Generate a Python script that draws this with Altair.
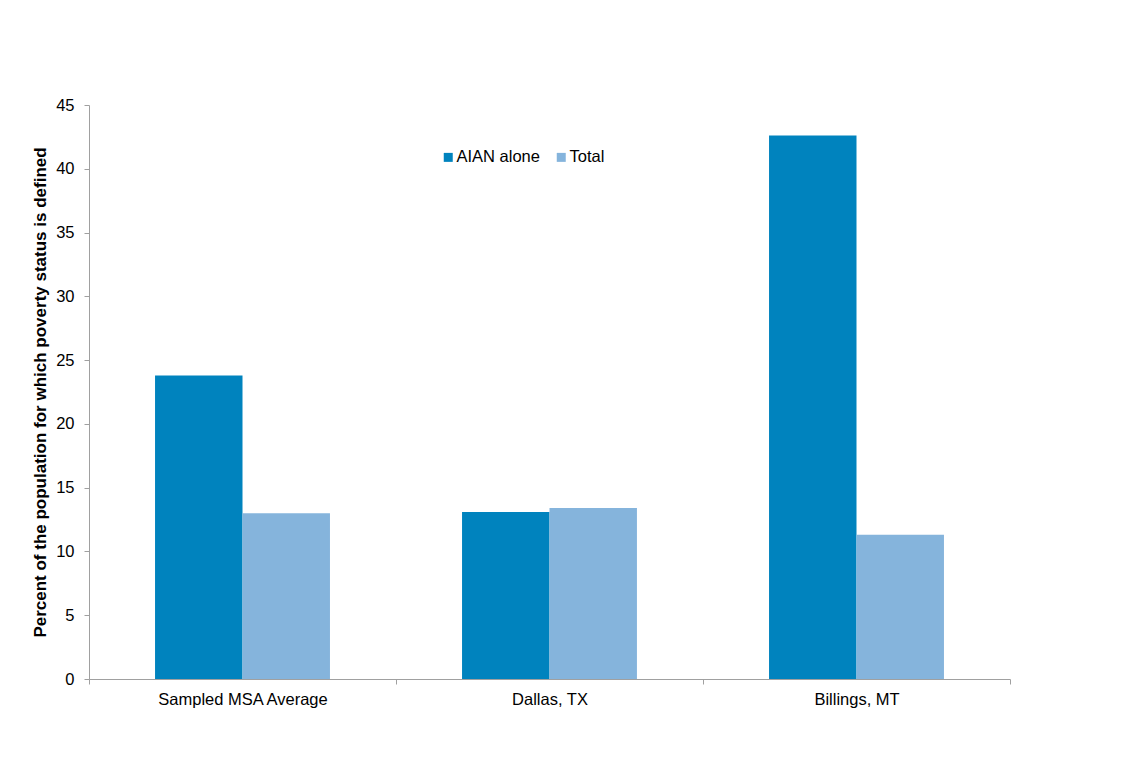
import altair as alt
import pandas as pd

regions = ["Sampled MSA Average", "Dallas, TX", "Billings, MT"]
series = ["AIAN alone", "Total"]
aian_values = [23.8, 13.1, 42.6]
total_values = [13.0, 13.4, 11.3]
colors = ["#0083BE", "#85B4DC"]
y_ticks = [0, 5, 10, 15, 20, 25, 30, 35, 40, 45]

rows = []
for r, a, t in zip(regions, aian_values, total_values):
    rows.append({"region": r, "series": series[0], "value": a})
    rows.append({"region": r, "series": series[1], "value": t})
df = pd.DataFrame(rows)

FONT = "Liberation Sans"
LBL = 16.5

chart = alt.Chart(df).mark_bar().encode(
    x=alt.X("region:N", sort=regions, title=None,
            scale=alt.Scale(paddingInner=0, paddingOuter=0),
            axis=alt.Axis(labelAngle=0, tickBand="extent", tickSize=5,
                          labelPadding=7, labelFontSize=LBL, labelColor="#000000",
                          domainColor="#A0A0A0", tickColor="#A0A0A0",
                          labelFont=FONT)),
    xOffset=alt.XOffset("series:N", sort=series,
                        scale=alt.Scale(paddingInner=0, paddingOuter=0.755)),
    y=alt.Y("value:Q",
            scale=alt.Scale(domain=[0, 45], nice=False),
            axis=alt.Axis(values=y_ticks, grid=False, tickSize=5, labelPadding=10,
                          labelFontSize=LBL, labelColor="#000000",
                          domainColor="#A0A0A0", tickColor="#A0A0A0",
                          labelFont=FONT,
                          title="Percent of the population for which poverty status is defined",
                          titleFont=FONT, titleFontSize=17, titleFontWeight="bold",
                          titleColor="#000000", titlePadding=6)),
    color=alt.Color("series:N", sort=series,
                    scale=alt.Scale(domain=series, range=colors),
                    legend=alt.Legend(title=None, orient="none", legendX=351, legendY=44,
                                      direction="horizontal", symbolType="square",
                                      symbolSize=81, symbolStrokeWidth=0,
                                      labelFontSize=LBL, labelFont=FONT,
                                      labelColor="#000000", labelOffset=0,
                                      columnPadding=13)),
).properties(
    width=921,
    height=574,
    autosize=alt.AutoSizeParams(type="none"),
    padding={"left": 89, "top": 105, "right": 124, "bottom": 98},
).configure(background="#FFFFFF").configure_view(stroke="transparent", strokeWidth=0)

chart.save("out.html", embed_options={"renderer": "svg", "actions": False})
